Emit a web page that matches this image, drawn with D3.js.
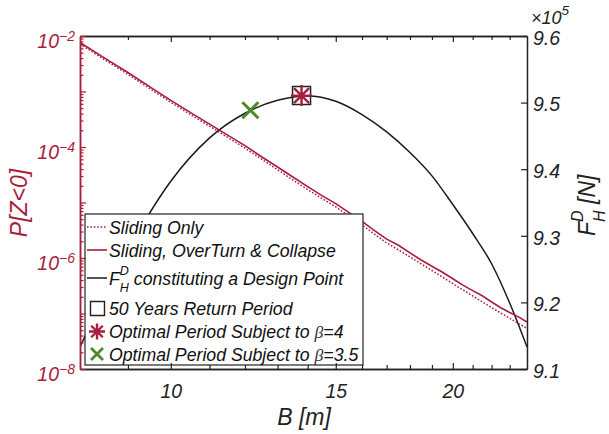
<!DOCTYPE html>
<html>
<head>
<meta charset="utf-8">
<script src="https://cdn.jsdelivr.net/npm/d3@7"></script>
<style>
  body { margin: 0; background: #fff; }
  svg text { font-family: "Liberation Sans", Arial, sans-serif; font-style: italic; }
</style>
</head>
<body>
<div id="chart"></div>
<script>
// breakwater width B [m] for the probability curves
const widthB = [8, 8.5, 9, 9.5, 10, 10.5, 11, 11.5, 12, 12.5, 13, 13.5, 14, 14.5, 15, 15.5,
  16, 16.5, 17, 17.5, 18, 18.5, 19, 19.5, 20, 20.5, 21, 21.5, 22, 22.5, 23, 23.5, 24];

// log10 P[Z<0]
const logPCombined = [-2.117, -2.398, -2.658, -2.918, -3.160, -3.380, -3.587, -3.786, -3.975,
  -4.176, -4.360, -4.540, -4.714, -4.876, -5.020, -5.182, -5.340, -5.508, -5.660, -5.770,
  -5.908, -6.036, -6.148, -6.256, -6.373, -6.488, -6.588, -6.680, -6.793, -6.896, -6.982,
  -7.060, -7.153];
const logPSliding = [-2.144, -2.428, -2.690, -2.950, -3.195, -3.418, -3.625, -3.828, -4.020,
  -4.220, -4.410, -4.594, -4.768, -4.928, -5.078, -5.245, -5.403, -5.570, -5.728, -5.855,
  -5.980, -6.106, -6.225, -6.345, -6.463, -6.575, -6.683, -6.790, -6.893, -6.992, -7.087,
  -7.180, -7.270];

// F_H^D design force (x10^5 N)
const forceB = [8, 9, 10, 11, 12, 13, 14, 15, 16, 17, 18, 19, 20, 21, 22, 23, 24];
const forceFH = [9.133, 9.278, 9.382, 9.447, 9.484, 9.5035, 9.510, 9.502, 9.482, 9.456,
  9.425, 9.390, 9.347, 9.3035, 9.258, 9.199, 9.133];

// special points [B, F]
const point50Years = [13.79, 9.5105];
const pointBeta4 = [13.79, 9.5105];
const pointBeta35 = [12.16, 9.4885];

const xMajorTicks = [10, 15, 20];
const xMinorTicks = [9, 11, 12, 13, 14, 16, 17, 18, 19, 21, 22, 23];
const rightTicks = [9.1, 9.2, 9.3, 9.4, 9.5, 9.6];
const leftLabelExps = [-8, -6, -4, -2];

const legendLabels = [
  "Sliding Only",
  "Sliding, OverTurn & Collapse",
  " constituting a Design Point",
  "50 Years Return Period",
  "Optimal Period Subject to ",
  "Optimal Period Subject to ",
];

const red = "#a91d3d";
const green = "#4c8a2c";

const width = 609, height = 434;
const plot = { left: 80, right: 527, top: 36, bottom: 369 };

const svg = d3.select("#chart").append("svg")
  .attr("width", width).attr("height", height);

const x = d3.scaleLog().domain([8, 24]).range([plot.left, plot.right]);
const yL = d3.scaleLog().domain([1e-8, 1e-2]).range([plot.bottom, plot.top]);
const yR = d3.scaleLinear().domain([9.1, 9.6]).range([plot.bottom, plot.top]);

svg.append("clipPath").attr("id", "clip")
  .append("rect")
  .attr("x", plot.left).attr("y", plot.top)
  .attr("width", plot.right - plot.left).attr("height", plot.bottom - plot.top);

const g = svg.append("g").attr("clip-path", "url(#clip)");

// black design-force curve
const lineF = d3.line().x((d) => x(d[0])).y((d) => yR(d[1])).curve(d3.curveMonotoneX);
g.append("path")
  .datum(forceB.map((b, i) => [b, forceFH[i]]))
  .attr("d", lineF)
  .attr("fill", "none").attr("stroke", "#1a1a1a").attr("stroke-width", 1.5);

// probability curves
const lineP = d3.line().x((d) => x(d[0])).y((d) => yL(d[1]));
g.append("path")
  .datum(widthB.map((b, i) => [b, Math.pow(10, logPSliding[i])]))
  .attr("d", lineP)
  .attr("fill", "none").attr("stroke", red).attr("stroke-width", 1.5)
  .attr("stroke-dasharray", "1.6,1.8");
g.append("path")
  .datum(widthB.map((b, i) => [b, Math.pow(10, logPCombined[i])]))
  .attr("d", lineP)
  .attr("fill", "none").attr("stroke", red).attr("stroke-width", 1.6);

// marker shapes
function squarePath(cx, cy, s) {
  return `M${cx - s / 2},${cy - s / 2}h${s}v${s}h${-s}Z`;
}
function asteriskPath(cx, cy, s) {
  const r = s / 2, q = r * 0.72;
  return `M${cx - r},${cy}H${cx + r}M${cx},${cy - r}V${cy + r}` +
    `M${cx - q},${cy - q}L${cx + q},${cy + q}M${cx - q},${cy + q}L${cx + q},${cy - q}`;
}
function crossPath(cx, cy, s) {
  const r = s / 2;
  return `M${cx - r},${cy - r}L${cx + r},${cy + r}M${cx - r},${cy + r}L${cx + r},${cy - r}`;
}

svg.append("path")
  .attr("d", squarePath(x(point50Years[0]), yR(point50Years[1]), 18))
  .attr("fill", "none").attr("stroke", "#222").attr("stroke-width", 1.5);
svg.append("path")
  .attr("d", asteriskPath(x(pointBeta4[0]), yR(pointBeta4[1]), 21))
  .attr("fill", "none").attr("stroke", red).attr("stroke-width", 2.4);
svg.append("path")
  .attr("d", crossPath(x(pointBeta35[0]), yR(pointBeta35[1]), 16))
  .attr("fill", "none").attr("stroke", green).attr("stroke-width", 3);

// legend
const lg = svg.append("g");
lg.append("rect")
  .attr("x", 85).attr("y", 214).attr("width", 278).attr("height", 151)
  .attr("fill", "#fff").attr("stroke", "#222").attr("stroke-width", 1.2);

const rowBase = [234, 257, 285, 315, 338, 361];
const textX = 109, fs = 17.7;

lg.append("line").attr("x1", 87).attr("x2", 107).attr("y1", 227).attr("y2", 227)
  .attr("stroke", red).attr("stroke-width", 1.5).attr("stroke-dasharray", "1.6,1.8");
lg.append("line").attr("x1", 87).attr("x2", 107).attr("y1", 250).attr("y2", 250)
  .attr("stroke", red).attr("stroke-width", 1.6);
lg.append("line").attr("x1", 87).attr("x2", 107).attr("y1", 278).attr("y2", 278)
  .attr("stroke", "#1a1a1a").attr("stroke-width", 1.5);
lg.append("path").attr("d", squarePath(97.5, 308.5, 14))
  .attr("fill", "none").attr("stroke", "#222").attr("stroke-width", 1.4);
lg.append("path").attr("d", asteriskPath(97, 331.5, 16))
  .attr("fill", "none").attr("stroke", red).attr("stroke-width", 2.4);
lg.append("path").attr("d", crossPath(97, 354, 12))
  .attr("fill", "none").attr("stroke", green).attr("stroke-width", 2.8);

[0, 1, 3].forEach((i) => {
  lg.append("text").attr("x", textX).attr("y", rowBase[i])
    .attr("font-size", fs).attr("fill", "#111").text(legendLabels[i]);
});

const fRow = lg.append("text").attr("x", textX).attr("y", rowBase[2])
  .attr("font-size", fs).attr("fill", "#111");
fRow.append("tspan").text("F");
fRow.append("tspan").attr("font-size", 12.5).attr("dy", -10).text("D");
fRow.append("tspan").attr("font-size", 12.5).attr("dx", -9).attr("dy", 17).text("H");
fRow.append("tspan").attr("dy", -7).text(legendLabels[2]);

[[4, "=4"], [5, "=3.5"]].forEach(([i, tail]) => {
  const t = lg.append("text").attr("x", textX).attr("y", rowBase[i])
    .attr("font-size", fs).attr("fill", "#111");
  t.append("tspan").text(legendLabels[i]);
  t.append("tspan").attr("font-family", "Liberation Serif, serif").attr("font-weight", 300)
    .attr("fill", "#333").text("\u03B2");
  t.append("tspan").text(tail);
});

// axes
function styleAxis(sel, color) {
  sel.selectAll(".domain").attr("stroke", color).attr("stroke-width", 1.5);
  sel.selectAll(".tick line").attr("stroke", color).attr("stroke-width", 1.2);
  sel.selectAll("text").attr("fill", color).attr("font-size", 19.5)
    .style("font-family", "Liberation Sans, Arial, sans-serif").style("font-style", "italic");
}

// bottom
const bottomMinor = svg.append("g").attr("transform", `translate(0,${plot.bottom})`)
  .call(d3.axisBottom(x).tickValues(xMinorTicks).tickSize(-4).tickSizeOuter(0).tickFormat(""));
styleAxis(bottomMinor, "#222");
const bottomMajor = svg.append("g").attr("transform", `translate(0,${plot.bottom})`)
  .call(d3.axisBottom(x).tickValues(xMajorTicks).tickSize(-6).tickSizeOuter(0)
    .tickPadding(15).tickFormat(d3.format("d")));
styleAxis(bottomMajor, "#222");

// top
const topMinor = svg.append("g").attr("transform", `translate(0,${plot.top})`)
  .call(d3.axisTop(x).tickValues(xMinorTicks).tickSize(-4).tickSizeOuter(0).tickFormat(""));
styleAxis(topMinor, "#222");
const topMajor = svg.append("g").attr("transform", `translate(0,${plot.top})`)
  .call(d3.axisTop(x).tickValues(xMajorTicks).tickSize(-6).tickSizeOuter(0).tickFormat(""));
styleAxis(topMajor, "#222");

// right
const rightAxis = svg.append("g").attr("transform", `translate(${plot.right},0)`)
  .call(d3.axisRight(yR).tickValues(rightTicks).tickSize(-6).tickSizeOuter(0)
    .tickPadding(6).tickFormat((d) => d.toFixed(1)));
styleAxis(rightAxis, "#222");
rightAxis.selectAll("text").attr("dy", "0.43em");

// left (log)
const leftTicks = yL.ticks();
const isDecade = (v) => Math.abs(Math.log10(v) - Math.round(Math.log10(v))) < 1e-6;
const leftMinor = svg.append("g").attr("transform", `translate(${plot.left},0)`)
  .call(d3.axisLeft(yL).tickValues(leftTicks.filter((v) => !isDecade(v)))
    .tickSize(-3.5).tickSizeOuter(0).tickFormat(""));
styleAxis(leftMinor, red);
const leftMajor = svg.append("g").attr("transform", `translate(${plot.left},0)`)
  .call(d3.axisLeft(yL).tickValues(leftTicks.filter(isDecade))
    .tickSize(-6).tickSizeOuter(0).tickFormat(""));
styleAxis(leftMajor, red);

leftLabelExps.forEach((e) => {
  const t = svg.append("text")
    .attr("x", 75).attr("y", yL(Math.pow(10, e)) + 12)
    .attr("text-anchor", "end").attr("fill", red).attr("font-size", 19.5);
  t.append("tspan").text("10");
  t.append("tspan").attr("font-size", 14).attr("dy", -7).text("\u2212" + Math.abs(e));
});

// exponent for right axis
const ex = svg.append("text").attr("x", 531).attr("y", 24)
  .attr("font-size", 18).attr("fill", "#222");
ex.append("tspan").text("\u00D710");
ex.append("tspan").attr("font-size", 13.5).attr("dy", -9).text("5");

// axis titles
svg.append("text").attr("x", 304).attr("y", 425).attr("text-anchor", "middle")
  .attr("font-size", 23).attr("fill", "#222").text("B [m]");

svg.append("text").attr("transform", "translate(27,203) rotate(-90)")
  .attr("text-anchor", "middle").attr("font-size", 23).attr("fill", red).text("P[Z<0]");

const rl = svg.append("text").attr("transform", "translate(595,236) rotate(-90)")
  .attr("font-size", 23).attr("fill", "#222");
rl.append("tspan").text("F");
rl.append("tspan").attr("font-size", 16).attr("dy", -12).text("D");
rl.append("tspan").attr("font-size", 16).attr("dx", -11.5).attr("dy", 22).text("H");
rl.append("tspan").attr("dy", -10).text(" [N]");
</script>
</body>
</html>
